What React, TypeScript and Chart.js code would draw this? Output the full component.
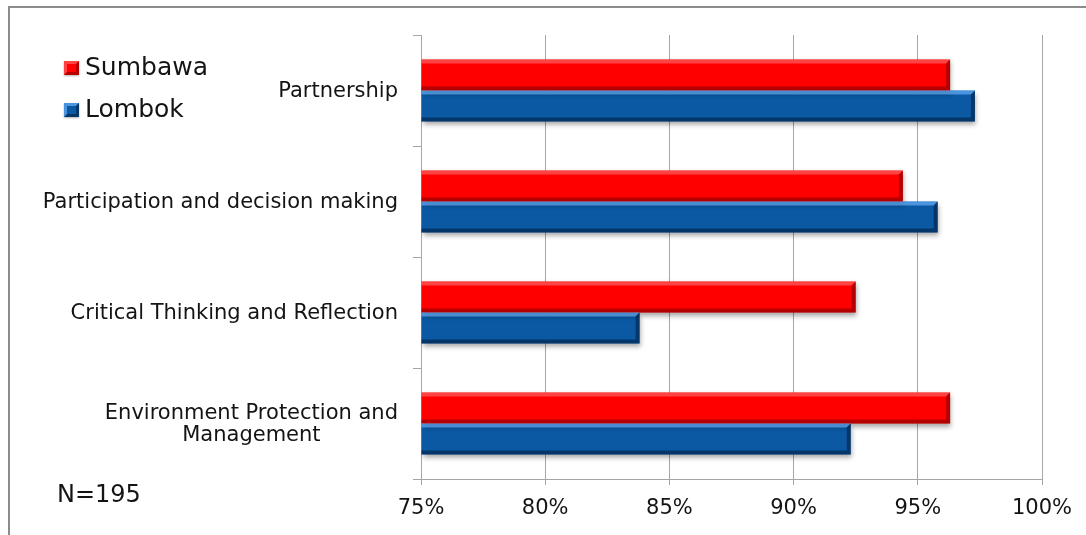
import React, { useEffect, useRef } from "react";
import { Chart, registerables } from "chart.js";

Chart.register(...registerables);

const categories: (string | string[])[] = [
  "Partnership",
  "Participation and decision making",
  "Critical Thinking and Reflection",
  ["Environment Protection and", "Management"],
];
const seriesNames = ["Sumbawa", "Lombok"];
const sumbawa = [96.3, 94.4, 92.5, 96.3];
const lombok = [97.3, 95.8, 83.8, 92.3];
const xMin = 75;
const xMax = 100;
const xStep = 5;
const noteText = "N=195";

const FONT = "'DejaVu Sans', 'Liberation Sans', sans-serif";
const TEXT = "#141414";
const GRID = "#a6a6a6";

const palette = [
  { main: "#fe0000", hi: "rgba(255,110,110,0.6)", lo: "rgba(110,0,0,0.5)" },
  { main: "#0b59a3", hi: "rgba(110,180,255,0.65)", lo: "rgba(0,20,50,0.5)" },
];

function bevel(ctx: CanvasRenderingContext2D, left: number, top: number, right: number, bottom: number, c: { hi: string; lo: string }, b: number, leftBevel: boolean) {
  const lb = leftBevel ? b : 0;
  ctx.fillStyle = c.hi;
  ctx.beginPath();
  ctx.moveTo(left, top);
  ctx.lineTo(right, top);
  ctx.lineTo(right - b, top + b);
  ctx.lineTo(left + lb, top + b);
  ctx.closePath();
  ctx.fill();
  ctx.fillStyle = c.lo;
  ctx.beginPath();
  ctx.moveTo(left, bottom);
  ctx.lineTo(right, bottom);
  ctx.lineTo(right - b, bottom - b);
  ctx.lineTo(left + lb, bottom - b);
  ctx.closePath();
  ctx.fill();
  ctx.beginPath();
  ctx.moveTo(right, top);
  ctx.lineTo(right, bottom);
  ctx.lineTo(right - b, bottom - b);
  ctx.lineTo(right - b, top + b);
  ctx.closePath();
  ctx.fill();
  if (leftBevel) {
    ctx.fillStyle = c.hi;
    ctx.beginPath();
    ctx.moveTo(left, top);
    ctx.lineTo(left + b, top + b);
    ctx.lineTo(left + b, bottom - b);
    ctx.lineTo(left, bottom);
    ctx.closePath();
    ctx.fill();
  }
}

const decorPlugin = {
  id: "decor",
  beforeDraw(chart: any) {
    const ctx = chart.ctx as CanvasRenderingContext2D;
    ctx.save();
    ctx.strokeStyle = "#8c8c8c";
    ctx.lineWidth = 2;
    ctx.beginPath();
    ctx.moveTo(9, chart.height + 5);
    ctx.lineTo(9, 7);
    ctx.lineTo(chart.width + 5, 7);
    ctx.stroke();
    ctx.restore();
  },
  beforeDatasetsDraw(chart: any) {
    const ctx = chart.ctx as CanvasRenderingContext2D;
    ctx.save();
    ctx.shadowColor = "rgba(0,0,0,0.35)";
    ctx.shadowBlur = 5;
    ctx.shadowOffsetX = 1;
    ctx.shadowOffsetY = 3;
  },
  afterDatasetsDraw(chart: any) {
    const ctx = chart.ctx as CanvasRenderingContext2D;
    ctx.restore();
    ctx.save();
    const area = chart.chartArea;
    chart.data.datasets.forEach((_d: any, di: number) => {
      const meta = chart.getDatasetMeta(di);
      meta.data.forEach((el: any) => {
        const p = el.getProps(["x", "y", "base", "height"], true);
        const left = Math.max(Math.min(p.x, p.base), area.left);
        const right = Math.max(p.x, p.base);
        const top = p.y - p.height / 2;
        const bottom = p.y + p.height / 2;
        bevel(ctx, left, top, right, bottom, palette[di], 4, false);
      });
    });
    ctx.restore();
  },
  afterDraw(chart: any) {
    const ctx = chart.ctx as CanvasRenderingContext2D;
    const yScale = chart.scales.y;
    ctx.save();
    ctx.fillStyle = TEXT;
    ctx.font = `21px ${FONT}`;
    ctx.textBaseline = "middle";
    ctx.textAlign = "center";
    const rightEdge = 398;
    const lineH = 22;
    categories.forEach((lab, i) => {
      const lines = Array.isArray(lab) ? lab : [lab];
      const w = Math.max(...lines.map((l) => ctx.measureText(l).width));
      const cx = rightEdge - w / 2;
      const cy = yScale.getPixelForValue(i) + 1;
      const y0 = cy - ((lines.length - 1) * lineH) / 2;
      lines.forEach((l, k) => ctx.fillText(l, cx, y0 + k * lineH));
    });
    ctx.textAlign = "left";
    ctx.textBaseline = "alphabetic";
    ctx.font = `25px ${FONT}`;
    const legendRows = [75, 117];
    seriesNames.forEach((name, i) => {
      const base = legendRows[i];
      const mx = 64, my = base - 14, ms = 14;
      ctx.save();
      ctx.shadowColor = "rgba(0,0,0,0.3)";
      ctx.shadowBlur = 2;
      ctx.shadowOffsetY = 1;
      ctx.fillStyle = palette[i].main;
      ctx.fillRect(mx, my, ms + 1, ms);
      ctx.restore();
      bevel(ctx, mx, my, mx + ms + 1, my + ms, palette[i], 3, true);
      ctx.fillStyle = TEXT;
      ctx.fillText(name, 85, base);
    });
    ctx.font = `24px ${FONT}`;
    ctx.fillText(noteText, 57, 502);
    ctx.restore();
  },
};

export default function App() {
  const ref = useRef<HTMLCanvasElement | null>(null);
  useEffect(() => {
    if (!ref.current) return;
    const chart = new Chart(ref.current, {
      type: "bar",
      data: {
        labels: categories as any,
        datasets: [
          {
            label: seriesNames[0],
            data: sumbawa,
            backgroundColor: palette[0].main,
            borderWidth: 0,
            base: xMin,
          } as any,
          {
            label: seriesNames[1],
            data: lombok,
            backgroundColor: palette[1].main,
            borderWidth: 0,
            base: xMin,
          } as any,
        ],
      },
      options: {
        indexAxis: "y",
        animation: false,
        responsive: true,
        maintainAspectRatio: false,
        layout: { padding: { top: 35, right: 44, left: 0, bottom: 0 } },
        datasets: { bar: { categoryPercentage: 0.56, barPercentage: 1 } },
        plugins: {
          legend: { display: false },
          tooltip: { enabled: false },
          title: { display: false },
        },
        scales: {
          x: {
            min: xMin,
            max: xMax,
            ticks: {
              stepSize: xStep,
              callback: (v: any) => `${v}%`,
              font: { family: FONT, size: 21 },
              color: TEXT,
              padding: 11,
              maxRotation: 0,
            },
            grid: { color: GRID, lineWidth: 1, tickLength: 6, drawTicks: true },
            border: { display: true, color: GRID, width: 1 },
            afterFit: (s: any) => {
              s.height = 56;
            },
          },
          y: {
            ticks: { display: false },
            grid: { drawOnChartArea: false, drawTicks: true, tickLength: 8, color: GRID, offset: true },
            border: { display: true, color: GRID, width: 1 },
            afterFit: (s: any) => {
              s.width = 421;
            },
          },
        },
      },
      plugins: [decorPlugin],
    });
    return () => chart.destroy();
  }, []);
  return (
    <div style={{ position: "absolute", left: 0, top: 0, width: 1086, height: 535, background: "#fff" }}>
      <canvas ref={ref} />
    </div>
  );
}
